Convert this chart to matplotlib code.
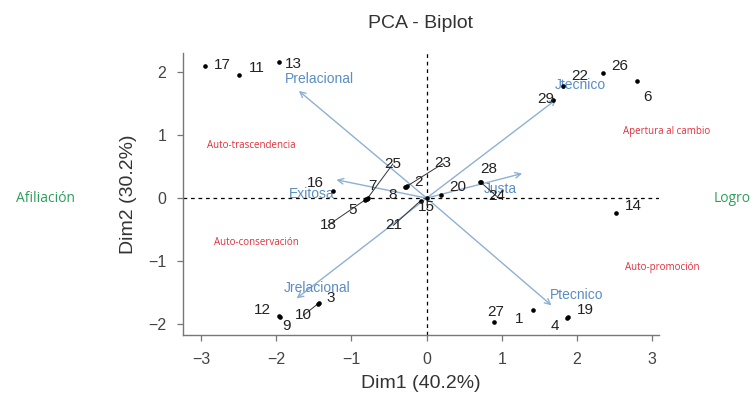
import matplotlib
matplotlib.use("Agg")
import matplotlib.pyplot as plt

# ---------------- data ----------------
ind_labels = [str(i) for i in range(1, 30)]
ind_x = [1.41, -0.27, -1.43, 1.86, -0.80, 2.80, -0.78, -0.29, -1.95, -1.45,
         -2.49, -1.96, -1.96, 2.52, 0.00, -1.25, -2.95, -0.82, 1.88, 0.19,
         -0.08, 1.81, -0.26, 0.72, -0.79, 2.34, 0.90, 0.71, 1.68]
ind_y = [-1.78, 0.18, -1.67, -1.90, -0.02, 1.85, 0.00, 0.17, -1.88, -1.68,
         1.95, -1.87, 2.15, -0.24, 0.00, 0.12, 2.09, -0.03, -1.89, 0.05,
         -0.04, 1.77, 0.19, 0.25, -0.01, 1.98, -1.97, 0.26, 1.56]

var_labels = ["Prelacional", "Jtecnico", "Exitosa", "Justa", "Jrelacional", "Ptecnico"]
var_x = [-1.70, 1.73, -1.20, 1.27, -1.73, 1.66]
var_y = [1.70, 1.57, 0.29, 0.39, -1.59, -1.70]

x_ticks = [-3, -2, -1, 0, 1, 2, 3]
y_ticks = [-2, -1, 0, 1, 2]

# ---------------- label placement (repel-like offsets, in data units) ----------------
ind_label_pos = {
    "1": (1.23, -1.91), "2": (-0.11, 0.26), "3": (-1.27, -1.59), "4": (1.71, -2.03),
    "5": (-0.99, -0.19), "6": (2.94, 1.61), "7": (-0.72, 0.19), "8": (-0.45, 0.05),
    "9": (-1.86, -2.02), "10": (-1.64, -1.86), "11": (-2.26, 2.07), "12": (-2.19, -1.78),
    "13": (-1.77, 2.13), "14": (2.75, -0.12), "15": (0.00, -0.14), "16": (-1.48, 0.24),
    "17": (-2.72, 2.11), "18": (-1.31, -0.43), "19": (2.11, -1.78), "20": (0.42, 0.18),
    "21": (-0.44, -0.43), "22": (2.04, 1.93), "23": (0.22, 0.55), "24": (0.93, 0.03),
    "25": (-0.45, 0.54), "26": (2.57, 2.10), "27": (0.92, -1.80), "28": (0.82, 0.46),
    "29": (1.58, 1.57),
}
leaders = ["25", "23", "18", "21", "10", "24"]
var_label_pos = {
    "Prelacional": (-1.42, 1.89), "Jtecnico": (2.04, 1.79), "Exitosa": (-1.53, 0.06),
    "Justa": (0.98, 0.15), "Jrelacional": (-1.46, -1.43), "Ptecnico": (2.0, -1.54),
}

plt.rcParams['font.family'] = ['Liberation Sans', 'DejaVu Sans']

fig = plt.figure(figsize=(7.54, 4.09), dpi=100)
ax = fig.add_axes([183/754, 74/409, 476/754, 282/409])
ax.set_xlim(-3.24, 3.09)
ax.set_ylim(-2.17, 2.30)

# reference lines
ax.axhline(0, color='black', lw=0.9, ls=(0, (3, 3)), zorder=1)
ax.axvline(0, color='black', lw=0.9, ls=(0, (3, 3)), zorder=1)

# variable arrows
arrow_col = '#8fb0d3'
label_col = '#5a8dc4'
for name, vx, vy in zip(var_labels, var_x, var_y):
    ax.annotate('', xy=(vx, vy), xytext=(0, 0),
                arrowprops=dict(arrowstyle='->', color=arrow_col, lw=1.0,
                                shrinkA=0, shrinkB=0, mutation_scale=10), zorder=2)
    lx, ly = var_label_pos[name]
    ax.text(lx, ly, name, color=label_col, fontsize=10, ha='center', va='center', zorder=3)

# individuals
ax.scatter(ind_x, ind_y, s=11, color='black', zorder=4, linewidths=0)
for lab, px, py in zip(ind_labels, ind_x, ind_y):
    lx, ly = ind_label_pos[lab]
    if lab in leaders:
        ax.plot([px, lx], [py, ly], color='#333333', lw=0.7, zorder=3)
    ax.text(lx, ly, lab, fontsize=11, color='#222222', ha='center', va='center', zorder=5)

# axes styling (R bty="l")
for s in ['top', 'right']:
    ax.spines[s].set_visible(False)
for s in ['left', 'bottom']:
    ax.spines[s].set_color('#777777')
    ax.spines[s].set_linewidth(1.0)
ax.set_xticks(x_ticks)
ax.set_yticks(y_ticks)
ax.tick_params(axis='both', direction='out', length=4, width=0.9, color='#777777',
               labelsize=11.5, labelcolor='#444444', pad=8)

ax.set_xlabel('Dim1 (40.2%)', fontsize=14, color='#333333', labelpad=6)
ax.set_ylabel('Dim2 (30.2%)', fontsize=14, color='#333333', labelpad=8)
ax.set_title('PCA - Biplot', fontsize=14, color='#333333', pad=18)

# quadrant annotations
red = '#e0303a'
ax.text(-2.33, 0.84, 'Auto-trascendencia', color=red, fontsize=7, ha='center', va='center',
        family=['Open Sans', 'DejaVu Sans'])
ax.text(-2.27, -0.71, 'Auto-conservación', color=red, fontsize=7, ha='center', va='center',
        family=['Open Sans', 'DejaVu Sans'])
ax.text(3.19, 1.05, 'Apertura al cambio', color=red, fontsize=7, ha='center', va='center',
        clip_on=False, family=['Open Sans', 'DejaVu Sans'])
ax.text(3.13, -1.10, 'Auto-promoción', color=red, fontsize=7, ha='center', va='center',
        clip_on=False, family=['Open Sans', 'DejaVu Sans'])

green = '#2e9e5b'
fig.text(45/754, 1 - 198/409, 'Afiliación', color=green, fontsize=10, ha='center', va='center',
         family=['Open Sans', 'DejaVu Sans'])
fig.text(732/754, 1 - 198/409, 'Logro', color=green, fontsize=10, ha='center', va='center',
         family=['Open Sans', 'DejaVu Sans'])

fig.savefig('out.png', dpi=100)
